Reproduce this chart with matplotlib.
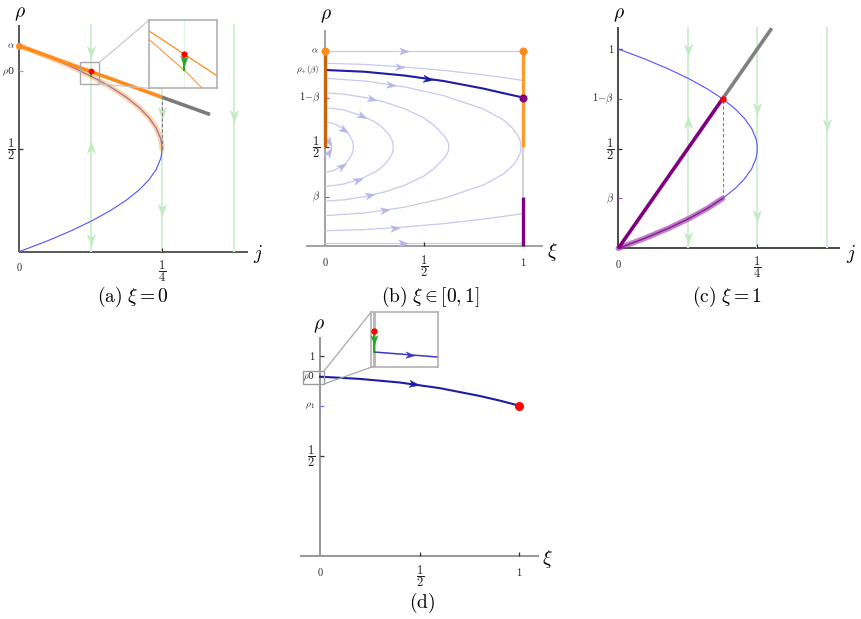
import numpy as np
import matplotlib
matplotlib.use("Agg")
import matplotlib.pyplot as plt
from matplotlib.path import Path
from matplotlib.markers import MarkerStyle
from matplotlib.patches import Rectangle, ConnectionPatch

plt.rcParams["mathtext.fontset"] = "cm"
plt.rcParams["font.family"] = ["DejaVu Serif"]

# ---------------- data ----------------
# parabola j = rho(1-rho) used in panels (a) and (c)
rho_par = [0.0, 0.05, 0.10, 0.15, 0.20, 0.25, 0.30, 0.35, 0.40, 0.45, 0.475, 0.50,
           0.525, 0.55, 0.60, 0.65, 0.70, 0.75, 0.80, 0.85, 0.90, 0.95, 1.0]
j_par = [0.0, 0.0475, 0.09, 0.1275, 0.16, 0.1875, 0.21, 0.2275, 0.24, 0.2475, 0.2494, 0.25,
         0.2494, 0.2475, 0.24, 0.2275, 0.21, 0.1875, 0.16, 0.1275, 0.09, 0.0475, 0.0]

# panel (a)
alpha_a = 1.0
j_line_a = [0.0, 0.25]
rho_line_a = [1.0, 0.75]
j_grey_a = [0.25, 0.334]
rho_grey_a = [0.75, 0.666]
j0_a = 0.125
rho0_a = 0.875
rho0_end_a = 0.854
j_green = [0.125, 0.25, 0.375]
ga_j = [0.125, 0.125, 0.125, 0.25, 0.25, 0.375]
ga_rho = [0.97, 0.51, 0.057, 0.672, 0.20, 0.66]
ga_dir = [-1, 1, -1, -1, -1, -1]

# panel (b)
alpha_b = 0.985
beta = 0.25
rho_plus_b = 0.889
xi_g = [0.0, 0.2, 0.4, 0.6, 0.8, 0.9, 1.0]
rhoA_up = [0.923, 0.917, 0.904, 0.887, 0.864, 0.851, 0.836]
rhoA_lo = [0.077, 0.083, 0.096, 0.113, 0.136, 0.149, 0.164]
rho_blue_b = [0.889, 0.880, 0.861, 0.833, 0.795, 0.772, 0.750]
xi_n5 = [0.0, 0.2, 0.4, 0.6, 0.8, 0.9, 0.95, 0.975, 0.985, 0.9885, 0.99]
rho_n5_up = [0.847, 0.833, 0.804, 0.759, 0.692, 0.637, 0.592, 0.556, 0.533, 0.5175, 0.5]
rho_n5_lo = [0.153, 0.167, 0.196, 0.241, 0.308, 0.363, 0.408, 0.444, 0.467, 0.4825, 0.5]
xi_n4 = [0.0, 0.1, 0.2, 0.3, 0.4, 0.5, 0.55, 0.6, 0.615, 0.622, 0.625]
rho_n4_up = [0.774, 0.766, 0.750, 0.727, 0.694, 0.646, 0.609, 0.557, 0.536, 0.520, 0.5]
rho_n4_lo = [0.226, 0.234, 0.250, 0.273, 0.306, 0.354, 0.391, 0.443, 0.464, 0.480, 0.5]
xi_n3 = [0.0, 0.093, 0.186, 0.25, 0.279, 0.305, 0.326, 0.338, 0.342, 0.344]
rho_n3_up = [0.700, 0.687, 0.658, 0.627, 0.607, 0.583, 0.556, 0.533, 0.519, 0.5]
rho_n3_lo = [0.300, 0.313, 0.342, 0.373, 0.393, 0.417, 0.444, 0.467, 0.481, 0.5]
xi_n2 = [0.0, 0.04, 0.071, 0.1, 0.12, 0.135, 0.1405, 0.142]
rho_n2_up = [0.628, 0.619, 0.604, 0.585, 0.562, 0.535, 0.516, 0.5]
rho_n2_lo = [0.372, 0.381, 0.396, 0.415, 0.438, 0.465, 0.484, 0.5]
xi_n1 = [0.0, 0.015, 0.025, 0.029, 0.03]
rho_n1_up = [0.545, 0.535, 0.52, 0.509, 0.5]
rho_n1_lo = [0.455, 0.465, 0.48, 0.491, 0.5]
xi_flat = [0.0, 1.0]
rho_flat_top = [0.985, 0.985]
rho_flat_bot = [0.015, 0.015]

# panel (c)
j_purple_c = [0.0, 0.1875]
rho_purple_c = [0.0, 0.75]
j_grey_c = [0.1875, 0.276]
rho_grey_c = [0.75, 1.104]
gc_j = [0.125, 0.125, 0.125, 0.25, 0.25, 0.375]
gc_rho = [0.995, 0.635, 0.05, 0.70, 0.16, 0.62]
gc_dir = [-1, 1, -1, -1, -1, -1]

# panel (d)
xi_d = [0.0, 0.2, 0.4, 0.6, 0.8, 0.9, 1.0]
rho_d = [0.895, 0.884, 0.866, 0.838, 0.799, 0.776, 0.750]
rho0_d = 0.9
rho1_d = 0.75

# ---------------- styles ----------------
W, H = 861, 619
PX = 0.72  # points per pixel at dpi 100
ORANGE = "#ff8c1a"
ORANGE_D = "#c8640e"
PURPLE = "#800080"
GREY = "#808080"
BLUE = "#5252ff"
NAVY = "#1c1ca6"
LAV = "#c8c8f0"
LAV_H = "#b6b6ea"
GREEN_L = "#d3efd3"
GREEN_H = "#c4eac4"
GREEN = "#22a822"
TXT = "#222222"
FRAC_FS = 9

fig = plt.figure(figsize=(W / 100, H / 100), dpi=100)
fig.patch.set_facecolor("white")

ARROW = Path([(1, 0), (-1, 0.72), (-0.45, 0), (-1, -0.72), (1, 0)],
             [Path.MOVETO, Path.LINETO, Path.LINETO, Path.LINETO, Path.CLOSEPOLY])


def make_ax(ox, oy, sx, sy, xlim, ylim):
    left = ox + sx * xlim[0]
    right = ox + sx * xlim[1]
    top = oy - sy * ylim[1]
    bottom = oy - sy * ylim[0]
    ax = fig.add_axes([left / W, 1 - bottom / H, (right - left) / W, (bottom - top) / H])
    ax.set_xlim(*xlim)
    ax.set_ylim(*ylim)
    ax.patch.set_alpha(0)
    for s in ax.spines.values():
        s.set_visible(False)
    ax.set_xticks([])
    ax.set_yticks([])
    return ax


def make_inset(x0, y0, x1, y1, xlim, ylim):
    ax = fig.add_axes([x0 / W, 1 - y1 / H, (x1 - x0) / W, (y1 - y0) / H])
    ax.set_xlim(*xlim)
    ax.set_ylim(*ylim)
    ax.set_facecolor("white")
    for s in ax.spines.values():
        s.set_color("#ababab")
        s.set_linewidth(1.1)
    ax.set_xticks([])
    ax.set_yticks([])
    ax.set_zorder(10)
    return ax


def head(ax, x, y, ang, color, size, z=6):
    m = MarkerStyle(ARROW).rotated(deg=ang)
    ax.plot([x], [y], marker=m, ms=size, color=color, mec=color, mew=0.3, ls="none",
            zorder=z, clip_on=False)


def head_on(ax, xs, ys, xp, color, size, z=6):
    xs = np.asarray(xs, float)
    ys = np.asarray(ys, float)
    yp = np.interp(xp, xs, ys)
    i = int(np.searchsorted(xs, xp))
    i = min(max(i, 1), len(xs) - 1)
    p0 = ax.transData.transform((xs[i - 1], ys[i - 1]))
    p1 = ax.transData.transform((xs[i], ys[i]))
    ang = np.degrees(np.arctan2(p1[1] - p0[1], p1[0] - p0[0]))
    head(ax, xp, yp, ang, color, size, z)


def axis_lines(ax, x0, x1, y0, y1, color, lw):
    ax.plot([x0, x1], [0, 0], color=color, lw=lw, clip_on=False, zorder=1,
            solid_capstyle="butt")
    ax.plot([0, 0], [y0, y1], color=color, lw=lw, clip_on=False, zorder=1,
            solid_capstyle="butt")


def ytick(ax, y, s, color="#333333", dx=-4, fs=7.5, tick=True):
    if tick:
        ax.plot([0], [y], marker=1, ms=4 * PX, mew=0.9, color=color, clip_on=False, zorder=2)
    if s:
        ax.annotate(s, xy=(0, y), xytext=(dx * PX, 0), textcoords="offset points",
                    ha="right", va="center", fontsize=fs, color=TXT)


def xtick(ax, x, s, color="#333333", dy=16, fs=7.5, tick=True):
    if tick:
        ax.plot([x], [0], marker=2, ms=4 * PX, mew=0.9, color=color, clip_on=False, zorder=2)
    ax.annotate(s, xy=(x, 0), xytext=(0, -dy * PX), textcoords="offset points",
                ha="center", va="center", fontsize=fs, color=TXT)


def ftext(x, y, s, fs, **kw):
    fig.text(x / W, 1 - y / H, s, fontsize=fs, ha=kw.pop("ha", "center"),
             va=kw.pop("va", "center"), **kw)


HALF = r"$\dfrac{1}{2}$"
QUART = r"$\dfrac{1}{4}$"

# ================= panel (a) =================
ax_a = make_ax(19, 251.7, 572, 206, (-0.03, 0.42), (-0.03, 1.13))
axis_lines(ax_a, 0, 0.40, 0, 1.10, "#4a4a4a", 1.3)
for jg in j_green:
    ax_a.plot([jg, jg], [0, 1.105], color=GREEN_L, lw=1.5, zorder=2, solid_capstyle="butt")
for jj, rr, dd in zip(ga_j, ga_rho, ga_dir):
    head(ax_a, jj, rr, 90 if dd > 0 else -90, GREEN_H, 8.5, z=2.5)
# lower branch (blue)
ax_a.plot(j_par[:12], rho_par[:12], color=BLUE, lw=0.8, zorder=3)
# upper branch: blue with orange shade
ax_a.plot(j_par[11:], rho_par[11:], color=BLUE, lw=0.8, zorder=3)
ax_a.plot(j_par[11:], rho_par[11:], color=ORANGE, lw=3.8, alpha=0.4, zorder=3,
          solid_capstyle="round")
ax_a.plot([0.25, 0.25], [0.5, 0.75], color=GREY, lw=0.8, ls=(0, (3, 2)), zorder=3)
ax_a.plot(j_grey_a, rho_grey_a, color="#7a7a7a", lw=2.6, zorder=4, solid_capstyle="butt")
ax_a.plot(j_line_a, rho_line_a, color=ORANGE, lw=2.6, zorder=4, solid_capstyle="butt")
ax_a.plot([0], [alpha_a], "o", color=ORANGE, ms=4, zorder=4, clip_on=False)
ax_a.plot([j0_a, j0_a], [rho0_a, rho0_end_a], color=GREEN, lw=1.3, zorder=5)
ax_a.plot([j0_a], [rho0_a], "o", color="red", ms=4.2, mec="none", zorder=6)
# small zoom box
ax_a.add_patch(Rectangle((0.1066, 0.814), 0.0338, 0.105, fill=False, ec="#a8a8a8", lw=1.0,
                         zorder=7))
# ticks
ytick(ax_a, alpha_a, r"$\alpha$", tick=False, fs=7)
ytick(ax_a, rho0_a, r"$\rho$0", color="#ff7a7a", fs=7)
ytick(ax_a, 0.5, HALF, fs=FRAC_FS)
xtick(ax_a, 0, r"$0$", tick=False, dy=15)
xtick(ax_a, 0.25, QUART, dy=19, fs=FRAC_FS)
ftext(20, 14, r"$\rho$", 14)
ftext(258, 254, r"$j$", 14)

# inset (a)
ins_a = make_inset(149, 20.3, 216.7, 88.3, (0.0939, 0.1541), (0.8288, 0.9204))
ins_a.plot([j0_a, j0_a], [0.8, 0.95], color="#e4f4e4", lw=0.8, zorder=1)
ins_a.plot(j_par[11:], rho_par[11:], color="#f3a35a", lw=0.9, zorder=2)
ins_a.plot(j_line_a, rho_line_a, color=ORANGE, lw=0.9, zorder=2)
ins_a.plot([j0_a, j0_a], [rho0_a, rho0_end_a], color=GREEN, lw=1.6, zorder=3)
head(ins_a, j0_a, 0.866, -90, GREEN, 7.5, z=4)
ins_a.plot([j0_a], [rho0_a], "o", color="red", ms=4.5, mec="none", zorder=5)
for xyA, xyB in [((0.1404, 0.919), (0, 1)), ((0.1404, 0.814), (0, 0))]:
    con = ConnectionPatch(xyA=xyA, coordsA=ax_a.transData, xyB=xyB, coordsB=ins_a.transAxes,
                          color="#c4c4c4", lw=0.8)
    fig.add_artist(con)

# ================= panel (b) =================
ax_b = make_ax(325.3, 246, 197.7, 198, (-0.15, 1.15), (-0.05, 1.12))
axis_lines(ax_b, -0.1, 1.1, 0, 1.09, "#9a9a9a", 1.3)
flow_lw = 0.9
ax_b.plot(xi_flat, rho_flat_top, color=LAV, lw=flow_lw, zorder=2)
ax_b.plot(xi_flat, rho_flat_bot, color=LAV, lw=flow_lw, zorder=2)
ax_b.plot(xi_g, rhoA_up, color=LAV, lw=flow_lw, zorder=2)
ax_b.plot(xi_g, rhoA_lo, color=LAV, lw=flow_lw, zorder=2)
for xs, up, lo in [(xi_n5, rho_n5_up, rho_n5_lo), (xi_n4, rho_n4_up, rho_n4_lo),
                   (xi_n3, rho_n3_up, rho_n3_lo), (xi_n2, rho_n2_up, rho_n2_lo),
                   (xi_n1, rho_n1_up, rho_n1_lo)]:
    ax_b.plot(list(xs) + list(xs)[::-1], list(up) + list(lo)[::-1], color=LAV, lw=flow_lw,
              zorder=2)
lav_heads = [(xi_flat, rho_flat_top, 0.40), (xi_g, rhoA_up, 0.378), (xi_n5, rho_n5_up, 0.332),
             (xi_n4, rho_n4_up, 0.238), (xi_n3, rho_n3_up, 0.187), (xi_n2, rho_n2_up, 0.096),
             (xi_n1, rho_n1_up, 0.02), (xi_n1, rho_n1_lo, 0.02), (xi_n2, rho_n2_lo, 0.083),
             (xi_n3, rho_n3_lo, 0.164), (xi_n4, rho_n4_lo, 0.226), (xi_n5, rho_n5_lo, 0.302),
             (xi_g, rhoA_lo, 0.352), (xi_flat, rho_flat_bot, 0.395)]
for xs, ys, xp in lav_heads:
    head_on(ax_b, xs, ys, xp, LAV_H, 6.8, z=2.5)
ax_b.plot(xi_g, rho_blue_b, color=NAVY, lw=1.5, zorder=3)
head_on(ax_b, xi_g, rho_blue_b, 0.52, NAVY, 7.2, z=3.5)
ax_b.plot([0, 0], [0.5, alpha_b], color=ORANGE_D, lw=2.4, zorder=4, solid_capstyle="butt")
ax_b.plot([1, 1], [0.5, alpha_b], color="#ff9a30", lw=2.4, zorder=4, solid_capstyle="butt")
ax_b.plot([1, 1], [beta, 0.5], color="#c8c8c8", lw=1.2, zorder=4, solid_capstyle="butt")
ax_b.plot([1, 1], [0, beta], color=PURPLE, lw=2.4, zorder=4, solid_capstyle="butt")
ax_b.plot([0, 1], [alpha_b, alpha_b], "o", color="#ff8c1a", ms=5.8, mec="none", zorder=5,
          clip_on=False)
ax_b.plot([1], [1 - beta], "o", color=PURPLE, ms=5.8, mec="none", zorder=5)
ytick(ax_b, alpha_b, r"$\alpha$", tick=False, dx=-7, fs=6.5)
ytick(ax_b, rho_plus_b, r"$\rho_{+}(\beta)$", tick=False, dx=-6, fs=6.5)
ytick(ax_b, 1 - beta, r"$1\!-\!\beta$", color="#b050b0", dx=-4)
ytick(ax_b, 0.5, HALF, dx=-5, fs=FRAC_FS)
ytick(ax_b, beta, r"$\beta$", color="#b050b0", dx=-5)
xtick(ax_b, 0, r"$0$", tick=False, dy=16)
xtick(ax_b, 0.5, HALF, dy=20, fs=FRAC_FS)
xtick(ax_b, 1, r"$1$", tick=False, dy=16)
ftext(325.5, 16, r"$\rho$", 14)
ftext(552, 252, r"$\xi$", 14)

# ================= panel (c) =================
ax_c = make_ax(618.3, 248.3, 556, 199.3, (-0.03, 0.42), (-0.03, 1.14))
axis_lines(ax_c, 0, 0.399, 0, 1.11, "#3c3c3c", 1.3)
for jg in j_green:
    ax_c.plot([jg, jg], [0, 1.11], color=GREEN_L, lw=1.5, zorder=2, solid_capstyle="butt")
for jj, rr, dd in zip(gc_j, gc_rho, gc_dir):
    head(ax_c, jj, rr, 90 if dd > 0 else -90, GREEN_H, 8.5, z=2.5)
ax_c.plot(j_par[5:], rho_par[5:], color=BLUE, lw=0.8, zorder=3)
ax_c.plot(j_par[:6], rho_par[:6], color="#9a3ab0", lw=4.0, alpha=0.65, zorder=3,
          solid_capstyle="round")
ax_c.plot(j_par[:6], rho_par[:6], color=PURPLE, lw=1.0, alpha=0.8, zorder=3)
ax_c.plot([0.1875, 0.1875], [beta, 1 - beta], color=GREY, lw=0.8, ls=(0, (3, 2)), zorder=3)
ax_c.plot(j_grey_c, rho_grey_c, color="#808080", lw=2.6, zorder=4, solid_capstyle="butt")
ax_c.plot(j_purple_c, rho_purple_c, color=PURPLE, lw=2.6, zorder=4, solid_capstyle="butt")
ax_c.plot([0.1875], [1 - beta], "o", color="red", ms=4.6, mec="none", zorder=5)
ytick(ax_c, 1.0, r"$1$", dx=-4)
ytick(ax_c, 1 - beta, r"$1\!-\!\beta$", color="#b050b0", dx=-4)
ytick(ax_c, 0.5, HALF, dx=-4, fs=FRAC_FS)
ytick(ax_c, beta, r"$\beta$", color="#b050b0", dx=-4)
xtick(ax_c, 0, r"$0$", tick=False, dy=16)
xtick(ax_c, 0.25, QUART, dy=19, fs=FRAC_FS)
ftext(618.5, 15, r"$\rho$", 14)
ftext(851, 254, r"$j$", 14)

# ================= panel (d) =================
ax_d = make_ax(320, 555.7, 199.3, 200, (-0.15, 1.15), (-0.05, 1.12))
axis_lines(ax_d, -0.1, 1.1, 0, 1.095, "#9a9a9a", 1.5)
ax_d.plot(xi_d, rho_d, color=NAVY, lw=1.5, zorder=3)
head_on(ax_d, xi_d, rho_d, 0.47, NAVY, 7.2, z=3.5)
ax_d.plot([1], [rho1_d], "o", color="red", ms=6.5, mec="none", zorder=5)
ytick(ax_d, 1.0, r"$1$", dx=-5)
ytick(ax_d, rho_d[0], "", color=GREEN)
ytick(ax_d, rho1_d, r"$\rho_1$", color="#7878ff", dx=-5, fs=7)
ytick(ax_d, 0.5, HALF, dx=-5, fs=FRAC_FS)
xtick(ax_d, 0, r"$0$", tick=False, dy=16)
xtick(ax_d, 0.5, HALF, dy=20, fs=FRAC_FS)
xtick(ax_d, 1, r"$1$", dy=16)
ax_d.add_patch(Rectangle((-0.0853, 0.8585), 0.1053, 0.065, fill=False, ec="#9c9c9c", lw=1.0,
                         zorder=6, clip_on=False))
ax_d.text(-0.055, 0.893, r"$\rho$0", fontsize=6.5, ha="center", va="center", color=TXT,
          zorder=7)
ftext(319, 326, r"$\rho$", 14)
ftext(547, 559, r"$\xi$", 14)

# inset (d)
ins_d = make_inset(371, 312.3, 437.7, 367.3, (-0.0011, 0.0218), (0.89136, 0.90445))
ins_d.plot([0, 0], [0.88, 0.91], color="#b4b4b4", lw=2.0, zorder=1)
ins_d.plot(xi_d, rho_d, color="#3a3ac0", lw=1.1, zorder=2)
head_on(ins_d, xi_d, rho_d, 0.0123, "#3a3ac0", 6.5, z=3)
ins_d.plot([0, 0], [rho0_d, rho_d[0]], color=GREEN, lw=1.4, zorder=3)
head(ins_d, 0, 0.8978, -90, GREEN, 7.0, z=4)
ins_d.plot([0], [rho0_d], "o", color="red", ms=4.6, mec="none", zorder=5)
for xyA, xyB in [((0.020, 0.9235), (0, 1)), ((0.020, 0.8585), (0, 0))]:
    con = ConnectionPatch(xyA=xyA, coordsA=ax_d.transData, xyB=xyB, coordsB=ins_d.transAxes,
                          color="#a8a8a8", lw=0.9)
    fig.add_artist(con)

# ================= captions =================
ftext(133, 297, r"$\mathrm{(a)}\ \xi = 0$", 14)
ftext(430, 297, r"$\mathrm{(b)}\ \xi \in [0,1]$", 14)
ftext(727, 297, r"$\mathrm{(c)}\ \xi = 1$", 14)
ftext(422, 603, r"$\mathrm{(d)}$", 14)

fig.savefig("out.png", dpi=100, facecolor="white")
